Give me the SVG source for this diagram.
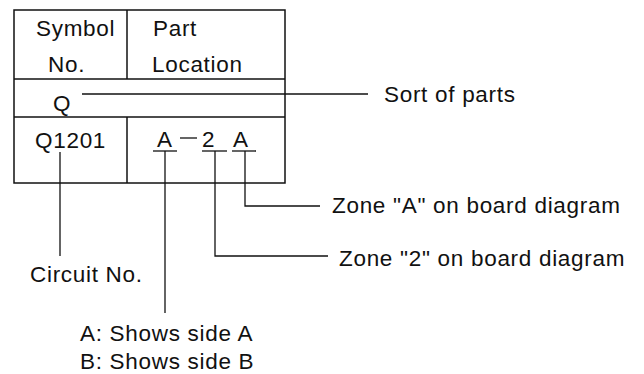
<svg xmlns="http://www.w3.org/2000/svg" width="644" height="374" viewBox="0 0 644 374">
<style>
text{font-family:"Liberation Sans",Arial,sans-serif;font-size:22.5px;letter-spacing:0.7px;fill:#111}
.box{fill:none;stroke:#111;stroke-width:1.5}
.ln{fill:none;stroke:#111;stroke-width:1.3}
</style>
<rect width="644" height="374" fill="#fff"/>
<g id="table">
<rect class="box" x="14" y="10" width="271" height="173"/>
<line class="box" x1="14" y1="79" x2="285" y2="79"/>
<line class="box" x1="14" y1="117" x2="285" y2="117"/>
<line class="box" x1="127" y1="10" x2="127" y2="79"/>
<line class="box" x1="127" y1="117" x2="127" y2="183"/>
<text x="36" y="36">Symbol</text>
<text x="48" y="71.5">No.</text>
<text x="153" y="36">Part</text>
<text x="152" y="71.5">Location</text>
<text x="53" y="111">Q</text>
<text x="35" y="148">Q1201</text>
<text x="157" y="147">A</text>
<line class="ln" x1="180" y1="138" x2="197" y2="138"/>
<text x="202" y="147">2</text>
<text x="233" y="147">A</text>
<line class="ln" x1="153" y1="151" x2="177" y2="151"/>
<line class="ln" x1="202" y1="151" x2="227" y2="151"/>
<line class="ln" x1="232" y1="151" x2="256" y2="151"/>
</g>
<g id="connectors">
<line class="ln" x1="82" y1="94" x2="368" y2="94"/>
<polyline class="ln" points="60,152 60,256"/>
<polyline class="ln" points="165,151 165,313"/>
<polyline class="ln" points="215,151 215,256 328,256"/>
<polyline class="ln" points="245,151 245,206 320,206"/>
</g>
<g id="sort-label"><text x="384" y="102">Sort of parts</text></g>
<g id="zone-a-label"><text x="332" y="213">Zone "A" on board diagram</text></g>
<g id="zone-2-label"><text x="339" y="266">Zone "2" on board diagram</text></g>
<g id="circuit-label"><text x="30" y="282">Circuit No.</text></g>
<g id="side-label">
<text x="80" y="341">A: Shows side A</text>
<text x="80" y="369">B: Shows side B</text>
</g>
</svg>
